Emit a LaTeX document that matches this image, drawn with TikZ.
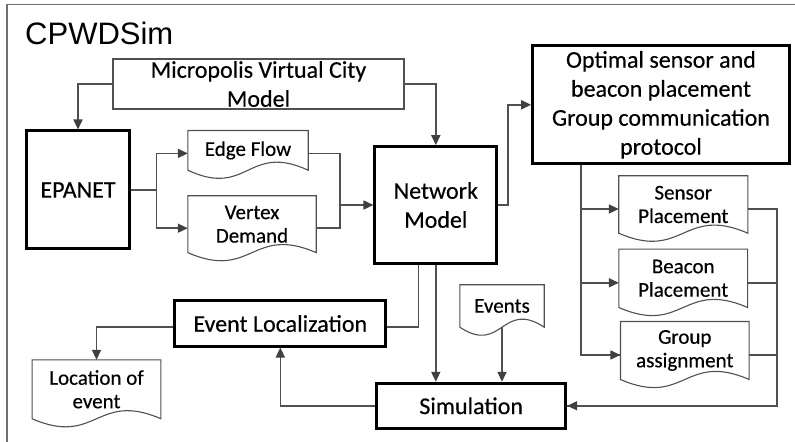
\documentclass[tikz,border=0pt]{standalone}
\usepackage{fontspec}
\setmainfont{Carlito}
\newfontfamily\labelfont{Carlito}[FakeBold=0.35]
\newfontfamily\titlefont{Liberation Sans}
\usetikzlibrary{arrows.meta,calc}

\definecolor{linegray}{HTML}{505050}
\definecolor{tipgray}{HTML}{404040}
\definecolor{framegray}{HTML}{707070}

\tikzset{
  boxnode/.style={draw=black, line width=3bp, fill=white, align=center,
    inner sep=0pt, font=\labelfont\fontsize{24bp}{29bp}\selectfont},
  thinbox/.style={draw=linegray, line width=1.2bp, fill=white, align=center,
    inner sep=0pt, font=\labelfont\fontsize{24bp}{29bp}\selectfont},
  docnode/.style={draw=none, align=center, inner sep=0pt,
    font=\labelfont\fontsize{21bp}{23.5bp}\selectfont},
  docline/.style={draw=linegray, line width=1.1bp, fill=white},
  conn/.style={draw=linegray, line width=1.6bp},
  arrow/.style={conn, -{Triangle[length=10bp,width=9bp,color=tipgray]}},
}

% document outline: flat top, straight sides, wavy bottom
\newcommand{\docoutline}[1]{%
  \path[docline] (#1.north west) -- (#1.north east) -- (#1.south east)
    .. controls ($(#1.south)+(0bp,28bp)$) and ($(#1.south)+(0bp,-28bp)$) ..
    (#1.south west) -- cycle;}

\begin{document}
\begin{tikzpicture}[x=1bp, y=-1bp]
\useasboundingbox (0,0) rectangle (795,442);

% frame
\draw[framegray, line width=1.5bp] (7,442) -- (7,4.5) -- (795,4.5);

% title
\node[anchor=base west, inner sep=0pt, font=\titlefont\fontsize{31bp}{31bp}\selectfont]
  (title) at (25,45) {CPWDSim};

% boxes
\node[thinbox, minimum width=291bp, minimum height=50bp] (micro) at (258.5,84)
  {Micropolis Virtual City\\Model};
\node[boxnode, minimum width=102bp, minimum height=118bp] (epanet) at (78,190) {EPANET};
\node[boxnode, minimum width=121.7bp, minimum height=116.6bp] (net) at (435.8,205)
  {Network\\Model};
\node[boxnode, minimum width=256.6bp, minimum height=118.3bp] (opt) at (661,104.8)
  {Optimal sensor and\\beacon placement\\Group communication\\protocol};
\node[boxnode, minimum width=210.7bp, minimum height=45bp] (evloc) at (280.3,323.5)
  {Event Localization};
\node[boxnode, minimum width=189bp, minimum height=45bp] (sim) at (471.2,405.8)
  {Simulation};

% documents
\node[docnode, minimum width=120bp, minimum height=39.3bp] (edge) at (248,150.4) {};
\node[docnode, minimum width=128bp, minimum height=56.5bp] (vert) at (252,224.2) {};
\node[docnode, minimum width=128.7bp, minimum height=57bp] (sen) at (683.3,204.5) {};
\node[docnode, minimum width=128.3bp, minimum height=58bp] (bea) at (683.2,278.3) {};
\node[docnode, minimum width=128.3bp, minimum height=57.6bp] (grp) at (684.8,350.5) {};
\node[docnode, minimum width=84bp, minimum height=42bp] (evs) at (502,306) {};
\node[docnode, minimum width=128.4bp, minimum height=58.5bp] (loc) at (96.5,389.3) {};
\foreach \d in {edge,vert,sen,bea,grp,evs,loc} {\docoutline{\d}}
\node[docnode] at (edge) {Edge Flow};
\node[docnode] at (vert) {Vertex\\Demand};
\node[docnode] at (sen) {Sensor\\Placement};
\node[docnode] at (bea) {Beacon\\Placement};
\node[docnode] at (grp) {Group\\assignment};
\node[docnode] at (evs) {Events};
\node[docnode] at (loc) {Location of\\event};

% helper points
\coordinate (split) at ($(epanet.east)+(26bp,0bp)$);
\coordinate (edgein) at ($(edge.west)+(0bp,-3bp)$);
\coordinate (vertin) at ($(vert.west)+(0bp,-4bp)$);
\coordinate (edgeout) at ($(edge.east)+(0bp,-3bp)$);
\coordinate (vertout) at ($(vert.east)+(0bp,-4bp)$);
\coordinate (join) at ($(edgeout)+(32bp,0bp)$);
\coordinate (trunk) at ($(opt.south west)+(50bp,0bp)$);
\coordinate (senin) at ($(sen.west)+(0bp,-4.5bp)$);
\coordinate (beain) at ($(bea.west)+(0bp,-4.5bp)$);
\coordinate (grpin) at ($(grp.west)+(0bp,-4.5bp)$);
\coordinate (senout) at ($(sen.east)+(0bp,-4.5bp)$);
\coordinate (beaout) at ($(bea.east)+(0bp,-4.5bp)$);
\coordinate (grpout) at ($(grp.east)+(0bp,-4.5bp)$);
\coordinate (rbus) at ($(senout)+(29bp,0bp)$);
\coordinate (netleft) at ($(net.south)+(-17.5bp,0bp)$);
\coordinate (evlocin) at ($(evloc.east)+(0bp,-3.8bp)$);
\coordinate (evlocout) at ($(evloc.west)+(0bp,-3.8bp)$);

% connectors
\draw[arrow] (micro.west) -| (epanet.north);
\draw[arrow] (micro.east) -| (net.north);
\draw[conn] (epanet.east) -- (split);
\draw[arrow] (split) |- (edgein);
\draw[arrow] (split) |- (vertin);
\draw[conn] (edgeout) -| (join |- vertout) -- (vertout);
\draw[arrow] (join |- net.west) -- (net.west);
\draw[arrow] (net.east) -- ++(10bp,0bp) |- (opt.west);
\draw[conn] (trunk) |- (grpin);
\draw[arrow] (trunk |- senin) -- (senin);
\draw[arrow] (trunk |- beain) -- (beain);
\draw[arrow] (trunk |- grpin) -- (grpin);
\draw[conn] (senout) -- (rbus) |- (sim.east);
\draw[arrow] (rbus |- sim.east) -- (sim.east);
\draw[conn] (beaout) -- (beaout -| rbus);
\draw[conn] (grpout) -- (grpout -| rbus);
\draw[conn] (netleft) |- (evlocin);
\draw[arrow] (net.south) -- (net.south |- sim.north);
\draw[arrow] (evs.south) -- (evs.south |- sim.north);
\draw[arrow] (evlocout) -| (loc.north);
\draw[arrow] (sim.west) -| (evloc.south);
\end{tikzpicture}
\end{document}
